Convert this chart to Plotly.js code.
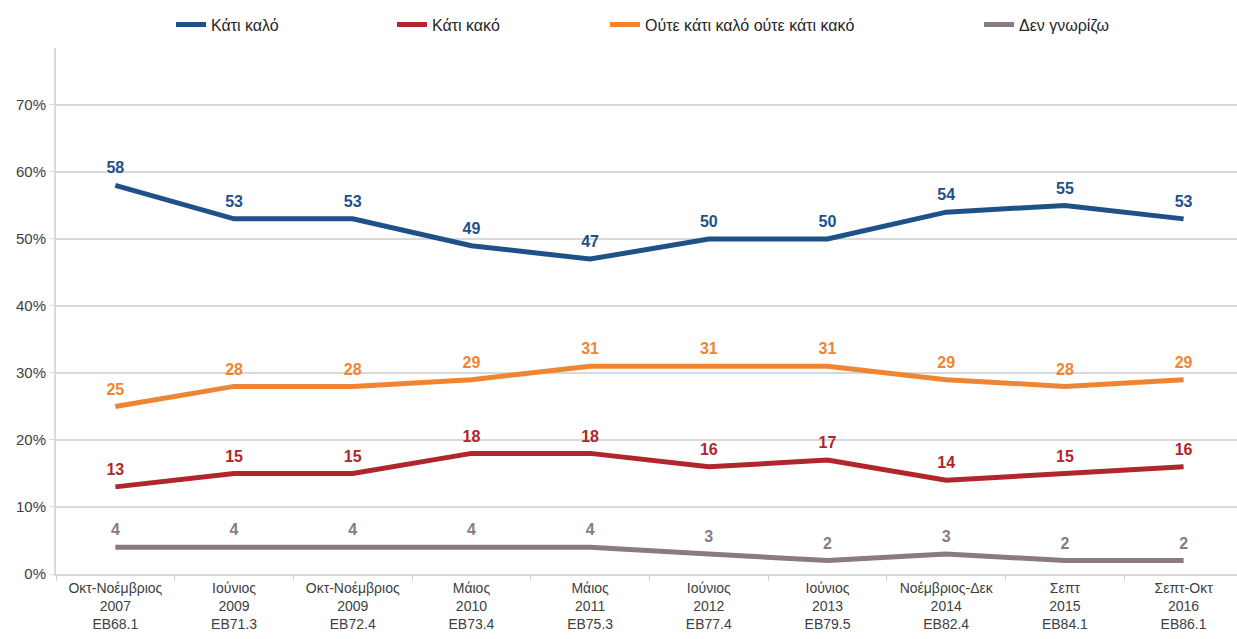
<!DOCTYPE html>
<html><head><meta charset="utf-8">
<script src="https://cdn.plot.ly/plotly-3.0.1.min.js"></script>
<style>html,body{margin:0;padding:0;background:#fff}#chart{width:1237px;height:639px}</style>
</head><body><div id="chart"></div>
<script>
const categories = [
  "Οκτ-Νοέμβριος<br>2007<br>EB68.1",
  "Ιούνιος<br>2009<br>EB71.3",
  "Οκτ-Νοέμβριος<br>2009<br>EB72.4",
  "Μάιος<br>2010<br>EB73.4",
  "Μάιος<br>2011<br>EB75.3",
  "Ιούνιος<br>2012<br>EB77.4",
  "Ιούνιος<br>2013<br>EB79.5",
  "Νοέμβριος-Δεκ<br>2014<br>EB82.4",
  "Σεπτ<br>2015<br>EB84.1",
  "Σεπτ-Οκτ<br>2016<br>EB86.1"
];
const seriesNames = ["Κάτι καλό", "Κάτι κακό", "Ούτε κάτι καλό ούτε κάτι κακό", "Δεν γνωρίζω"];
const good    = [58, 53, 53, 49, 47, 50, 50, 54, 55, 53];
const bad     = [13, 15, 15, 18, 18, 16, 17, 14, 15, 16];
const neither = [25, 28, 28, 29, 31, 31, 31, 29, 28, 29];
const dontKnow= [4, 4, 4, 4, 4, 3, 2, 3, 2, 2];
const yTicks = [0, 10, 20, 30, 40, 50, 60, 70];

const colors = ["#1F5189", "#B0262C", "#EF8533", "#8B7B80"];
const data = [good, bad, neither, dontKnow];
const legendIds = ["legend", "legend2", "legend3", "legend4"];

const traces = data.map((vals, i) => ({
  type: "scatter",
  mode: "lines+markers+text",
  x: categories,
  y: vals,
  name: seriesNames[i],
  text: vals.map(String),
  textposition: "top center",
  textfont: {family: "Liberation Sans, Arial, sans-serif", size: 16, color: colors[i], weight: "bold"},
  line: {color: colors[i], width: 5},
  marker: {size: 11, color: "rgba(0,0,0,0)", line: {width: 0}},
  cliponaxis: false,
  legend: legendIds[i],
  hoverinfo: "skip"
}));

const L = 56, W = 1237 - L;
const px = p => (p - L) / W;
const legendBase = {y: 1.012, yanchor: "bottom", xanchor: "left", orientation: "h",
  font: {family: "Liberation Sans, Arial, sans-serif", size: 16, color: "#262626"},
  bgcolor: "rgba(0,0,0,0)", itemwidth: 30};
const legendX = [171, 392, 605, 979];

const layout = {
  width: 1237, height: 639,
  margin: {l: L, r: 0, t: 48, b: 65},
  paper_bgcolor: "#fff", plot_bgcolor: "#fff",
  font: {family: "Liberation Sans, Arial, sans-serif", color: "#404040"},
  xaxis: {
    type: "category",
    range: [-0.5, 9.45],
    tickson: "boundaries",
    ticks: "outside", ticklen: 5, tickcolor: "#d0d0d0",
    showgrid: false,
    showline: true, linecolor: "#d9d9d9", linewidth: 2,
    tickfont: {size: 14, color: "#404040"},
    fixedrange: true
  },
  yaxis: {
    range: [0, 78.5],
    tickvals: yTicks,
    ticktext: yTicks.map(v => v + "%"),
    ticks: "outside", ticklen: 5, tickcolor: "#d9d9d9",
    showgrid: true, gridcolor: "#d9d9d9", gridwidth: 2,
    zeroline: false,
    showline: true, linecolor: "#d9d9d9", linewidth: 2,
    tickfont: {size: 15, color: "#404040"},
    fixedrange: true
  },
  showlegend: true
};
legendIds.forEach((id, i) => { layout[id] = Object.assign({}, legendBase, {x: px(legendX[i])}); });

Plotly.newPlot("chart", traces, layout, {displayModeBar: false, staticPlot: true});
</script></body></html>
